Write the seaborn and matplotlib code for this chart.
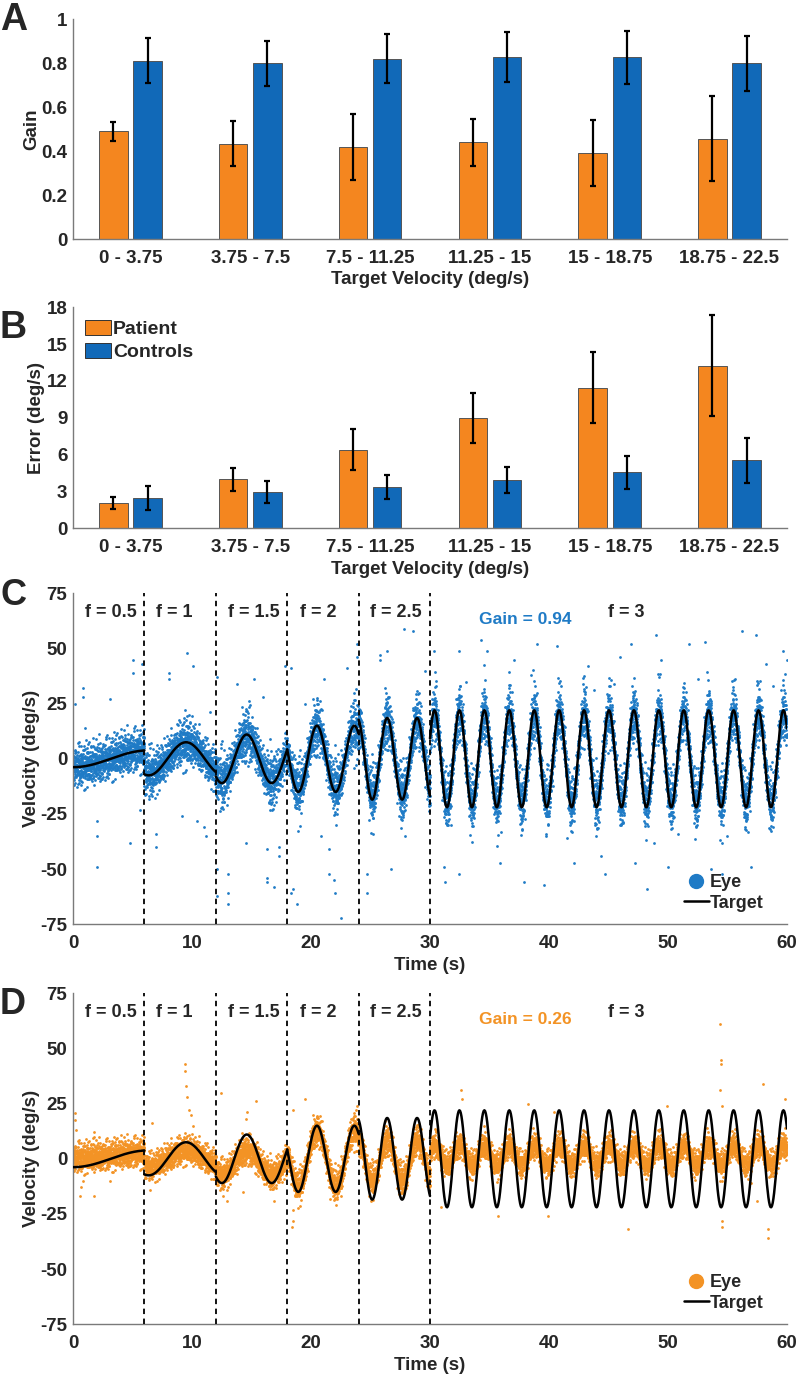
import numpy as np
import pandas as pd
import matplotlib
matplotlib.use("Agg")
import matplotlib.pyplot as plt
import seaborn as sns
from matplotlib.lines import Line2D

# ---- panels A / B : bar data ----
bins = ["0 - 3.75", "3.75 - 7.5", "7.5 - 11.25", "11.25 - 15", "15 - 18.75", "18.75 - 22.5"]
gain_patient = [0.490, 0.433, 0.420, 0.439, 0.391, 0.456]
gain_patient_err = [0.043, 0.102, 0.150, 0.108, 0.151, 0.192]
gain_control = [0.811, 0.798, 0.820, 0.827, 0.826, 0.800]
gain_control_err = [0.102, 0.103, 0.111, 0.112, 0.120, 0.125]
error_patient = [2.04, 3.99, 6.38, 8.96, 11.46, 13.25]
error_patient_sd = [0.50, 0.96, 1.67, 2.02, 2.89, 4.10]
error_control = [2.47, 2.99, 3.37, 3.94, 4.56, 5.54]
error_control_sd = [0.98, 0.90, 1.00, 1.06, 1.35, 1.83]

# ---- panels C / D : target segments ----
seg_start = [0, 6, 12, 18, 24, 30]
seg_end = [6, 12, 18, 24, 30, 60]
seg_freq = [0.5, 1.0, 1.5, 2.0, 2.5, 3.0]
seg_amp = [3.8, 7.5, 11.0, 15.0, 18.5, 22.0]
seg_peak = [6.3, 9.5, 14.6, 20.5, 26.4, 30.38]
seg_labels = ["f = 0.5", "f = 1", "f = 1.5", "f = 2", "f = 2.5", "f = 3"]
label_t = [1.0, 7.0, 13.0, 19.1, 25.0, 45.0]
boundaries = [6, 12, 18, 24, 30]

# eye response per segment: fraction of target, offset, band spread, extra spread at peaks
ctrl_ratio = [1.0, 0.95, 0.95, 0.95, 0.95, 0.95]
ctrl_offset = [0.0, 0.0, 0.0, 0.0, 0.0, 0.0]
ctrl_spread = [4.5, 4.2, 4.2, 4.2, 4.2, 4.2]
ctrl_peak_spread = [0.0, 1.5, 3.0, 3.5, 3.5, 3.5]
pat_ratio = [0.3, 0.5, 0.5, 0.85, 0.5, 0.2]
pat_offset = [1.5, 0.0, -2.0, 0.0, -1.0, 1.5]
pat_spread = [3.2, 3.0, 3.0, 3.0, 3.0, 2.6]
pat_peak_spread = [0.0, 0.0, 0.5, 1.0, 1.0, 0.5]
jitter = [0.05, -0.62, 0.31, -0.18, 0.84, -1.05, 0.12, 0.47, -0.35, 1.38, -0.08, -0.71,
          0.22, 0.58, -1.62, 0.0, 0.39, -0.27, 1.02, -0.49, 0.15, -0.9, 2.1]
jitter2 = [0.3, -0.45, 0.1, 0.6, -0.2, -0.7, 0.45, -0.05, 0.25, -0.35, 0.75, -0.55,
           0.0, 0.5, -0.15, 0.35, -0.8]

# scattered eye samples away from the band
ctrl_out_t = [0.2, 0.85, 0.85, 1.0, 2.0, 2.0, 2.0, 3.1, 5.0, 5.0, 4.8, 5.6, 5.8, 7.0, 7.0, 8.1, 8.1,
              9.2, 9.6, 10.1, 10.4, 11.0, 11.2, 11.5, 12.1, 12.1, 12.1, 13.0, 13.0, 13.0, 13.8, 14.5,
              15.2, 16.0, 16.3, 16.3, 16.3, 16.9, 17.3, 17.3, 17.8, 18.3, 18.3, 18.5, 18.8, 19.5,
              20.8, 21.1, 21.5, 21.5, 21.9, 22.0, 22.5, 23.0, 23.3, 23.9, 23.9, 24.7, 24.7, 25.8,
              25.8, 26.4, 26.7, 27.8, 27.9, 28.6, 29.6, 30.3, 31.2, 31.3, 32.4, 32.4, 34.3, 34.8,
              35.9, 37.1, 37.9, 39.0, 39.6, 40.7, 42.1, 43.3, 44.4, 44.7, 46.0, 46.9, 47.2, 48.2,
              49.0, 49.4, 50.0, 51.8, 53.1, 53.6, 54.5, 56.2, 57.0, 57.4, 58.2, 59.7, 60.0,
              33.0, 36.0, 38.5, 41.5, 45.5, 48.8, 52.5, 55.0, 58.8, 31.8, 43.8, 50.8]
ctrl_out_v = [25, 32, 28, 14, -28, -35, -49, 27, 45, 39, -38, -23, 43, -40, -34, 39, 36,
              -26, 48, 42, -28, -31, -35, 21, 37, -50, -62, -61, -66, -52, 34, -38,
              36, 28, -41, -54, -56, -58, -44, -40, 42, 41, -61, -59, -66, 25,
              -35, 36, -41, -52, -55, -61, -72, 41, 15, 46, 52, -52, -61, 45,
              47, 49, -50, 59, -35, 58, 40, 49, -49, -56, 49, -52, 54, 49,
              -47, 45, -56, 52, -57, 51, -47, 42, -44, -52, 46, 52, -47, -59,
              56, 45, -49, 52, 53, -50, -52, 58, -49, 56, 43, 49, 45,
              35, -33, 38, -36, 34, -38, 36, -35, 33, -30, 31, -34]
pat_out_t = [0.2, 0.2, 0.25, 0.6, 0.7, 0.85, 1.8, 1.8, 1.8, 3.1, 6.6, 6.5, 9.4, 9.45, 9.5, 9.6,
             9.75, 9.9, 10.1, 12.4, 12.6, 12.9, 14.5, 14.6, 15.4, 14.3, 16.9, 18.5, 18.4, 18.45,
             18.5, 19.5, 21.6, 22.5, 23.9, 32.6, 32.7, 30.9, 35.7, 39.9, 38.2, 40.4, 46.6, 49.9,
             54.4, 54.45, 54.45, 54.4, 54.5, 54.5, 54.5, 57.0, 57.5, 58.4, 58.4, 58.0, 59.8]
pat_out_v = [20.6, 17.6, 13, -17, -13, -10, 12, 10, -17, -10, 16, -14, 43, 40, 33, 28,
             22, 20, 15, 30, -17, -19, 18, 21, 26, -15, -19, 22, -31, -28,
             -23, 27, -18, -17, 24, 31, 27, -22, -26, -26, 25, 21, -32, 24,
             61, 45, 43, 31, 24, -28, -31, -11, -19, -32, -36, 34, 27]

orange = "#F4861F"
blue = "#1169B8"
eye_blue = "#1F7BC6"
eye_orange = "#F39325"

sns.set_style("white")
plt.rcParams["font.family"] = ["Liberation Sans", "DejaVu Sans"]
plt.rcParams["font.weight"] = "bold"
plt.rcParams["axes.labelweight"] = "bold"
plt.rcParams["axes.unicode_minus"] = False

fig = plt.figure(figsize=(8, 13.78), dpi=100)
H = 1378.0
L = 73 / 800
W = 714 / 800
TICK = 13.5
LAB = 13.5


def style_axes(ax):
    sns.despine(ax=ax)
    for s in ["left", "bottom"]:
        ax.spines[s].set_color("#7a7a7a")
        ax.spines[s].set_linewidth(1.0)
    ax.tick_params(direction="in", length=5, color="#7a7a7a", labelsize=TICK, pad=4)
    for lab in ax.get_xticklabels() + ax.get_yticklabels():
        lab.set_fontweight("bold")


def bar_panel(ax, p, perr, c, cerr, ylim, yticks, ylabel, legend):
    df = pd.DataFrame({
        "bin": bins * 2,
        "group": ["Patient"] * 6 + ["Controls"] * 6,
        "value": p + c,
    })
    sns.barplot(data=df, x="bin", y="value", hue="group", palette=[orange, blue],
                width=0.57, gap=0.17, errorbar=None, edgecolor="#555555", linewidth=0.7,
                saturation=1, ax=ax, legend=legend)
    for cont, err in zip(ax.containers, [perr, cerr]):
        xs = [b.get_x() + b.get_width() / 2 for b in cont]
        ys = [b.get_height() for b in cont]
        ax.errorbar(xs, ys, yerr=err, fmt="none", ecolor="black", elinewidth=1.6,
                    capsize=2.5, capthick=1.6, zorder=5)
    ax.set_xlim(-0.48, 5.48)
    ax.set_ylim(*ylim)
    ax.set_yticks(yticks)
    ax.set_yticklabels([f"{v:g}" for v in yticks])
    ax.set_xlabel("Target Velocity (deg/s)", fontsize=LAB, labelpad=3)
    ax.set_ylabel(ylabel, fontsize=LAB, labelpad=1)
    style_axes(ax)
    ax.tick_params(axis="x", length=3, pad=8)


axA = fig.add_axes([L, 1 - 239 / H, W, 220 / H])
bar_panel(axA, gain_patient, gain_patient_err, gain_control, gain_control_err,
          (0, 1), [0, 0.2, 0.4, 0.6, 0.8, 1], "Gain", False)

axB = fig.add_axes([L, 1 - 528.3 / H, W, 221 / H])
bar_panel(axB, error_patient, error_patient_sd, error_control, error_control_sd,
          (0, 18), [0, 3, 6, 9, 12, 15, 18], "Error (deg/s)", True)
leg = axB.legend(loc="upper left", bbox_to_anchor=(0.0, 0.995), frameon=False,
                 prop={"weight": "bold", "size": 14}, handlelength=1.35, handleheight=0.8,
                 handletextpad=0.1, labelspacing=0.25, borderaxespad=0.2)
for h in leg.legend_handles:
    h.set_edgecolor("#333333")


def velocity_panel(ax, ratio, offset, spread, peak_spread, out_t, out_v, eye_color, gain_text):
    tgt_rows = []
    eye_t, eye_v = [], []
    for i in range(6):
        ts = np.linspace(seg_start[i], seg_end[i], 500)
        vs = seg_amp[i] * np.cos(seg_freq[i] * (ts - seg_peak[i]))
        tgt_rows.append(pd.DataFrame({"t": ts, "v": vs, "seg": i}))
        te = np.arange(seg_start[i], seg_end[i], 0.006)
        jit = np.resize(jitter, len(te)) + np.resize(jitter2, len(te))
        phase = np.cos(seg_freq[i] * (te - seg_peak[i]))
        width = spread[i] + peak_spread[i] * np.abs(phase) ** 6
        ve = ratio[i] * seg_amp[i] * phase + offset[i] + width * jit
        eye_t.append(te)
        eye_v.append(ve)
    eye = pd.DataFrame({"t": np.concatenate(eye_t + [np.array(out_t)]),
                        "v": np.concatenate(eye_v + [np.array(out_v, dtype=float)])})
    tgt = pd.concat(tgt_rows)
    sns.scatterplot(data=eye, x="t", y="v", s=4, linewidth=0, color=eye_color, ax=ax, zorder=2)
    sns.lineplot(data=tgt, x="t", y="v", units="seg", estimator=None, color="black",
                 linewidth=1.8, ax=ax, zorder=3)
    for b in boundaries:
        ax.axvline(b, color="black", linestyle=(0, (3, 2.5)), linewidth=1.3, zorder=4)
    for lab, lt in zip(seg_labels, label_t):
        ax.text(lt, 66.5, lab, fontsize=13, fontweight="bold", va="center", ha="left")
    ax.text(34.1, 63, gain_text, fontsize=12.5, fontweight="bold", color=eye_color,
            va="center", ha="left")
    ax.set_xlim(0, 60)
    ax.set_ylim(-75, 75)
    ax.set_xticks(range(0, 61, 10))
    ax.set_yticks(range(-75, 76, 25))
    ax.set_xlabel("Time (s)", fontsize=LAB, labelpad=3)
    ax.set_ylabel("Velocity (deg/s)", fontsize=LAB, labelpad=0)
    style_axes(ax)
    ax.tick_params(axis="x", pad=8)
    handles = [Line2D([], [], marker="o", linestyle="none", markersize=10, color=eye_color),
               Line2D([], [], color="black", linewidth=1.8)]
    ax.legend(handles, ["Eye", "Target"], loc="lower right", bbox_to_anchor=(0.985, 0.0),
              frameon=False, prop={"weight": "bold", "size": 13}, handlelength=1.4,
              handletextpad=0.05, labelspacing=0.2, borderaxespad=0.3)


axC = fig.add_axes([L, 1 - 924.3 / H, W, 331 / H])
velocity_panel(axC, ctrl_ratio, ctrl_offset, ctrl_spread, ctrl_peak_spread,
               ctrl_out_t, ctrl_out_v, eye_blue, "Gain = 0.94")

axD = fig.add_axes([L, 1 - 1324.3 / H, W, 331 / H])
velocity_panel(axD, pat_ratio, pat_offset, pat_spread, pat_peak_spread,
               pat_out_t, pat_out_v, eye_orange, "Gain = 0.26")

for lab, y, size in [("A", 20, 27), ("B", 328, 27), ("C", 596, 26), ("D", 1004, 26)]:
    fig.text(0.0, 1 - y / H, lab, fontsize=size, fontweight="bold", va="center", ha="left")

fig.savefig("out.png", dpi=100)
